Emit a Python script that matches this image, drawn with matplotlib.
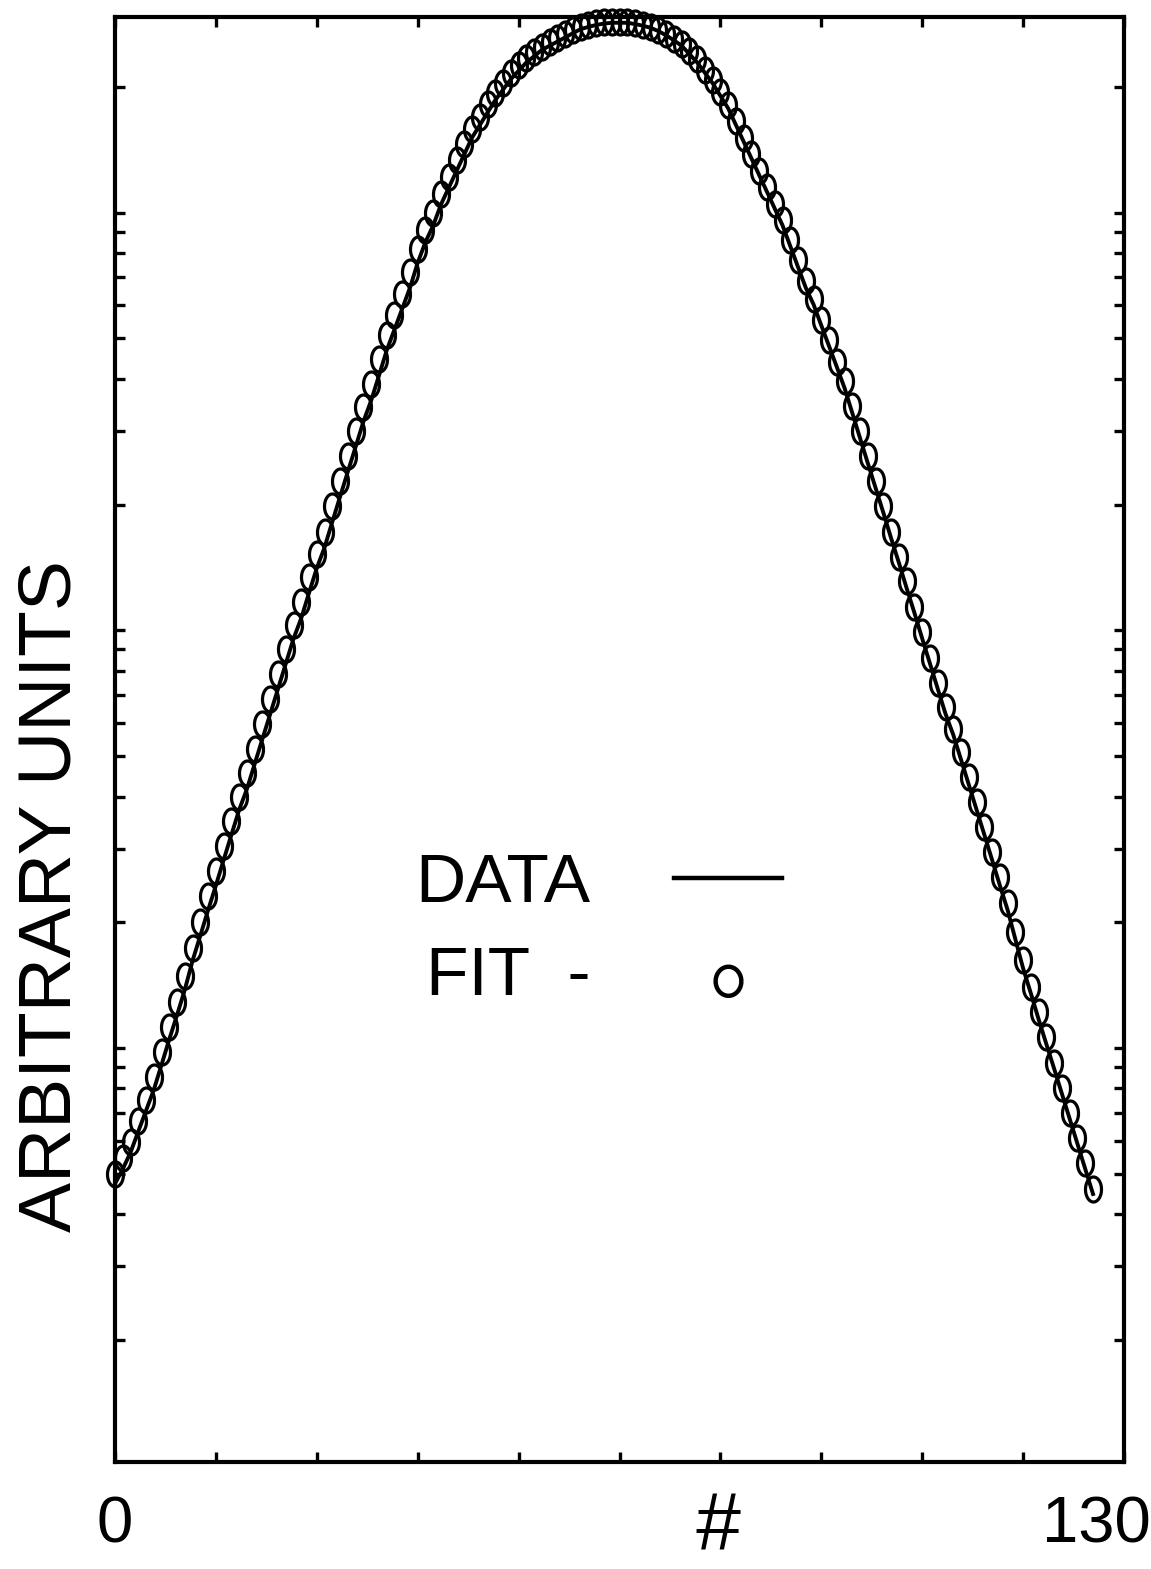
import numpy as np
import matplotlib
matplotlib.use("Agg")
import matplotlib.pyplot as plt
import matplotlib.transforms as mtransforms
from matplotlib.lines import Line2D
from matplotlib.ticker import LogLocator, NullFormatter, FixedLocator

# channel number (#) and measured / fitted intensity (arbitrary units)
CHANNEL = list(range(0, 127))

DATA = [
    4.73, 5.13, 5.62, 6.31, 7.08, 7.94, 9.12, 10.5, 12.0, 13.8,
    16.2, 18.6, 21.4, 24.5, 28.2, 32.4, 37.2, 41.7, 47.9, 55.0,
    63.1, 72.4, 83.2, 95.5, 107, 123, 141, 158, 182, 209,
    240, 275, 316, 355, 407, 468, 525, 589, 661, 759,
    851, 933, 1047, 1148, 1259, 1380, 1514, 1622, 1738, 1862,
    1972, 2089, 2188, 2291, 2371, 2455, 2512, 2570, 2630, 2692,
    2754, 2786, 2818, 2838, 2851, 2851, 2851, 2831, 2805, 2773,
    2723, 2661, 2588, 2512, 2399, 2291, 2163, 2042, 1905, 1778,
    1622, 1479, 1349, 1230, 1122, 1023, 933, 832, 741, 661,
    603, 537, 479, 427, 380, 331, 288, 251, 219, 191,
    166, 145, 126, 110, 95.5, 83.2, 72.4, 63.1, 56.2, 49.0,
    42.7, 37.2, 32.4, 28.2, 24.5, 21.4, 18.2, 15.5, 13.5, 11.7,
    10.2, 8.91, 7.76, 6.76, 5.89, 5.13, 4.47,
]

FIT = [
    5.0, 5.45, 5.95, 6.7, 7.5, 8.5, 9.8, 11.2, 12.9, 14.9,
    17.4, 20.0, 23.1, 26.5, 30.5, 35.0, 40.0, 45.5, 52.0, 59.6,
    68.4, 78.5, 90.0, 103, 117, 134, 152, 172, 198, 228,
    261, 300, 343, 390, 447, 510, 570, 638, 720, 820,
    910, 1000, 1110, 1215, 1335, 1460, 1590, 1700, 1820, 1940,
    2050, 2160, 2260, 2350, 2430, 2500, 2560, 2620, 2680, 2740,
    2790, 2820, 2840, 2860, 2870, 2870, 2860, 2840, 2815, 2785,
    2740, 2680, 2610, 2530, 2440, 2330, 2200, 2080, 1950, 1810,
    1660, 1510, 1380, 1260, 1150, 1050, 960, 860, 770, 685,
    620, 555, 495, 440, 395, 345, 300, 262, 228, 198,
    172, 150, 131, 114, 99, 86, 75, 65.5, 58, 51,
    44.5, 38.8, 33.8, 29.4, 25.6, 22.3, 19.0, 16.2, 14.0, 12.2,
    10.6, 9.2, 8.0, 7.0, 6.1, 5.3, 4.6,
]

X_TICKS = list(range(0, 131, 13))
X_TICK_LABELS = ["0"] + [""] * 9 + ["130"]

plt.rcParams["font.family"] = ["Liberation Sans", "DejaVu Sans"]

fig = plt.figure(figsize=(11.51, 15.69), dpi=100)
ax = fig.add_axes([0.0999, 0.0682, 0.8767, 0.9210])

# tall oval used for the fit points
t = np.linspace(0, 2 * np.pi, 60)
oval = np.column_stack([0.64 * np.cos(t), np.sin(t)])
# legend "o": same kind of ring, but sitting low like a lower-case letter
small_o = np.column_stack([0.46 * np.cos(t), 0.52 * np.sin(t) - 0.35])

ax.plot(CHANNEL, DATA, color="black", lw=2.8, clip_on=False, zorder=3)
ax.plot(CHANNEL, FIT, ls="none", marker=oval, ms=18, mfc="none",
        mec="black", mew=2.3, clip_on=False, zorder=4)

ax.set_yscale("log")
ax.set_xlim(0, 130)
ax.set_ylim(1.02, 2944)

ax.xaxis.set_major_locator(FixedLocator(X_TICKS))
ax.set_xticklabels(X_TICK_LABELS)
ax.yaxis.set_major_locator(LogLocator(base=10, subs=range(1, 10), numticks=50))
ax.yaxis.set_minor_locator(LogLocator(base=10, subs=range(1, 10), numticks=50))
ax.yaxis.set_major_formatter(NullFormatter())
ax.yaxis.set_minor_formatter(NullFormatter())

ax.tick_params(axis="both", which="both", direction="in", length=7, width=2.4,
               top=True, right=True, labelsize=47, pad=24)
for s in ax.spines.values():
    s.set_linewidth(3)

# the "130" label sits a little left of its tick
lab = ax.get_xticklabels()[-1]
lab.set_transform(lab.get_transform() +
                  mtransforms.ScaledTranslation(-28 / 100, 0, fig.dpi_scale_trans))

fig.text(0.044, 0.429, "ARBITRARY UNITS", rotation=90, ha="center", va="center",
         fontsize=54)
fig.text(0.623, 0.0015, "#", ha="center", va="bottom", fontsize=58, style="italic")

handles = [
    Line2D([], [], color="black", lw=3.2),
    Line2D([], [], ls="none", marker=small_o, ms=35, mfc="none", mec="black",
           mew=3.2),
]
ax.legend(handles, ["DATA", "FIT  -"], loc="upper left",
          bbox_to_anchor=(0.298, 0.422), frameon=False, fontsize=50,
          markerfirst=False, handlelength=1.55, handletextpad=1.2,
          labelspacing=0.42, borderpad=0, borderaxespad=0)

fig.savefig("out.png", dpi=100)
